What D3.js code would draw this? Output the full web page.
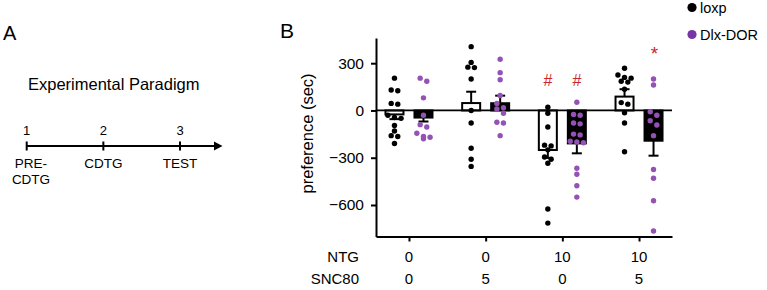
<!DOCTYPE html>
<html>
<head>
<meta charset="utf-8">
<script src="https://cdn.jsdelivr.net/npm/d3@7"></script>
<style>
  body { margin: 0; background: #fff; }
  svg { font-family: "Liberation Sans", Arial, sans-serif; display: block; }
</style>
</head>
<body>
<div id="fig"></div>
<script>
// panel A
let steps = ["1", "2", "3"];
let stepLabels = [["PRE-", "CDTG"], ["CDTG"], ["TEST"]];

// panel B
let groups = ["g1", "g2", "g3", "g4"];
let ntgDose = ["0", "0", "10", "10"];
let sncDose = ["0", "5", "0", "5"];
let yTicks = [300, 0, -300, -600];

let loxpPoints = [
    [205, 125, 130, 45, 40, -30, -50, -45, -95, -130, -165, -160, -210],
    [405, 305, 272, 275, 200, 0, -80, -240, -310, -355],
    [20, -18, -105, -220, -225, -250, -295, -310, -335, -625, -715],
    [268, 225, 210, 205, 185, 180, 135, 50, 40, -15, -80, -262]
];
let dlxPoints = [
    [185, 205, 80, -30, -105, -90, -145, -180, -165, -170],
    [325, 240, 195, 95, 45, 10, 18, -18, -75, -80, -160],
    [52, -30, -25, -80, -85, -150, -155, -200, -195, -205, -367, -405, -478, -550],
    [200, 162, -8, -30, -65, -92, -160, -375, -430, -573, -765]
];
let loxpMean = [-25, 47, -251, 88];
let loxpSem = [30, 72, 50, 47];
let dlxMean = [-45, 46, -209, -192];
let dlxSem = [25, 48, 63, 95];

let markGroup = ["g3", "g3", "g4"];
let markSeries = ["loxp", "dlx", "dlx"];
let markSymbol = ["#", "#", "*"];

let seriesNames = ["loxp", "Dlx-DOR"];

let red = "#c8282d";
let purple = "#9552b5";
let purpleDark = "#7636a6";

let svg = d3.select("#fig").append("svg")
    .attr("width", 767)
    .attr("height", 290);

drawPanelA();
drawPanelB();

function drawPanelA(){
    svg.append("text")
        .attr("x", 3).attr("y", 40)
        .style("font-size", "20px")
        .text("A");

    svg.append("text")
        .attr("x", 28).attr("y", 90)
        .style("font-size", "16.5px")
        .text("Experimental Paradigm");

    let x = d3.scalePoint().domain(steps).range([26.7, 180]);
    let lineY = 146;

    svg.append("line")
        .attr("x1", x(steps[0])).attr("x2", 216)
        .attr("y1", lineY).attr("y2", lineY)
        .style("stroke", "#000").style("stroke-width", 2);
    svg.append("path")
        .attr("d", "M214,141.5 L222.5,146 L214,150.5 Z")
        .style("fill", "#000");

    steps.forEach((s, i) => {
        svg.append("line")
            .attr("x1", x(s)).attr("x2", x(s))
            .attr("y1", lineY - 4.5).attr("y2", lineY + 4.5)
            .style("stroke", "#000").style("stroke-width", 2);
        svg.append("text")
            .attr("x", x(s)).attr("y", 135)
            .style("text-anchor", "middle")
            .style("font-size", "13px")
            .text(s);
        let cx = i == 0 ? 31 : x(s);
        stepLabels[i].forEach((t, j) => {
            svg.append("text")
                .attr("x", cx).attr("y", 168 + j * 15.5)
                .style("text-anchor", "middle")
                .style("font-size", "13.5px")
                .text(t);
        })
    })
}

function drawPanelB(){
    let margin = { left: 376, top: 38 };
    let width = 296, height = 198.5;
    let g = svg.append("g").attr("transform", "translate(" + [margin.left, margin.top] + ")");

    svg.append("text")
        .attr("x", 280).attr("y", 38)
        .style("font-size", "21px")
        .text("B");

    let x = d3.scalePoint().domain(groups).range([0, width]).padding(0.43);
    let y = d3.scaleLinear().domain([-800, 460]).range([height, 0]);
    let off = 14.5, barW = 18;

    // bars
    let series = [
        { key: "loxp", pts: loxpPoints, mean: loxpMean, sem: loxpSem, dx: -off, fill: "#fff", dot: "#000" },
        { key: "dlx", pts: dlxPoints, mean: dlxMean, sem: dlxSem, dx: off, fill: "#000", dot: purple }
    ];

    series.forEach(s => {
        g.selectAll(null).data(groups).enter()
            .append("rect")
            .attr("x", d => x(d) + s.dx - barW / 2)
            .attr("width", barW)
            .attr("y", (d, i) => y(Math.max(0, s.mean[i])))
            .attr("height", (d, i) => Math.abs(y(s.mean[i]) - y(0)))
            .style("fill", s.fill)
            .style("stroke", "#000")
            .style("stroke-width", 2);
    })

    // zero line
    g.append("line")
        .attr("x1", 0).attr("x2", width)
        .attr("y1", y(0)).attr("y2", y(0))
        .style("stroke", "#000").style("stroke-width", 1.8);

    // error bars, pointing away from zero
    series.forEach(s => {
        groups.forEach((d, i) => {
            let m = s.mean[i];
            let end = m + Math.sign(m) * s.sem[i];
            let cx = x(d) + s.dx;
            g.append("line")
                .attr("x1", cx).attr("x2", cx)
                .attr("y1", y(m)).attr("y2", y(end))
                .style("stroke", "#000").style("stroke-width", 2);
            g.append("line")
                .attr("x1", cx - 5).attr("x2", cx + 5)
                .attr("y1", y(end)).attr("y2", y(end))
                .style("stroke", "#000").style("stroke-width", 2);
        })
    })

    // dots, spread sideways when they would overlap
    function swarm(values, cx){
        let pts = values.map(v => ({ v: v, y: y(v) })).sort((a, b) => a.y - b.y);
        let rows = [];
        pts.forEach(p => {
            let last = rows[rows.length - 1];
            if(last && p.y - last[0].y < 4.5) last.push(p);
            else rows.push([p]);
        })
        rows.forEach(r => r.forEach((p, i) => { p.x = cx + (i - (r.length - 1) / 2) * 6.6; }));
        return pts;
    }

    series.forEach(s => {
        groups.forEach((d, i) => {
            let pts = swarm(s.pts[i], x(d) + s.dx);
            g.selectAll(null).data(pts).enter()
                .append("circle")
                .attr("cx", p => p.x)
                .attr("cy", p => p.y)
                .attr("r", 2.7)
                .style("fill", s.dot);
        })
    })

    // axes
    let axisY = d3.axisLeft(y).tickValues(yTicks).tickSize(5).tickSizeOuter(0).tickPadding(7);
    let ay = g.append("g").call(axisY);
    ay.select(".domain").style("stroke-width", 2);
    ay.selectAll(".tick line").style("stroke-width", 2);
    ay.selectAll("text").style("font-size", "15.5px").style("font-family", "Liberation Sans, Arial, sans-serif");

    let axisX = d3.axisBottom(x).tickSize(5).tickSizeOuter(0).tickFormat("");
    let ax = g.append("g").attr("transform", "translate(0," + height + ")").call(axisX);
    ax.select(".domain").style("stroke-width", 2);
    ax.selectAll(".tick line").style("stroke-width", 2);

    g.append("text")
        .attr("transform", "translate(-63," + (y(0) + 23) + ") rotate(-90)")
        .style("text-anchor", "middle")
        .style("font-size", "16.5px")
        .text("preference (sec)");

    // dose rows
    let rows = [["NTG", ntgDose, 261.5], ["SNC80", sncDose, 283.5]];
    rows.forEach(r => {
        svg.append("text")
            .attr("x", 359).attr("y", r[2])
            .style("text-anchor", "end")
            .style("font-size", "15px")
            .text(r[0]);
        groups.forEach((d, i) => {
            svg.append("text")
                .attr("x", margin.left + x(d)).attr("y", r[2])
                .style("text-anchor", "middle")
                .style("font-size", "15px")
                .text(r[1][i]);
        })
    })

    // significance marks
    markGroup.forEach((gr, i) => {
        let dx = markSeries[i] == "loxp" ? -off : off;
        let star = markSymbol[i] == "*";
        svg.append("text")
            .attr("x", margin.left + x(gr) + dx + (star ? 1 : 0))
            .attr("y", star ? 60 : 85.5)
            .style("text-anchor", "middle")
            .style("font-size", star ? "19px" : "16px")
            .style("fill", red)
            .text(markSymbol[i]);
    })

    // legend
    let legendColors = ["#000", purpleDark];
    seriesNames.forEach((n, i) => {
        svg.append("circle")
            .attr("cx", 692).attr("cy", 7.5 + i * 27)
            .attr("r", 4.6)
            .style("fill", legendColors[i]);
        svg.append("text")
            .attr("x", 700).attr("y", 12.5 + i * 27)
            .style("font-size", "14.5px")
            .text(n);
    })
}
</script>
</body>
</html>
